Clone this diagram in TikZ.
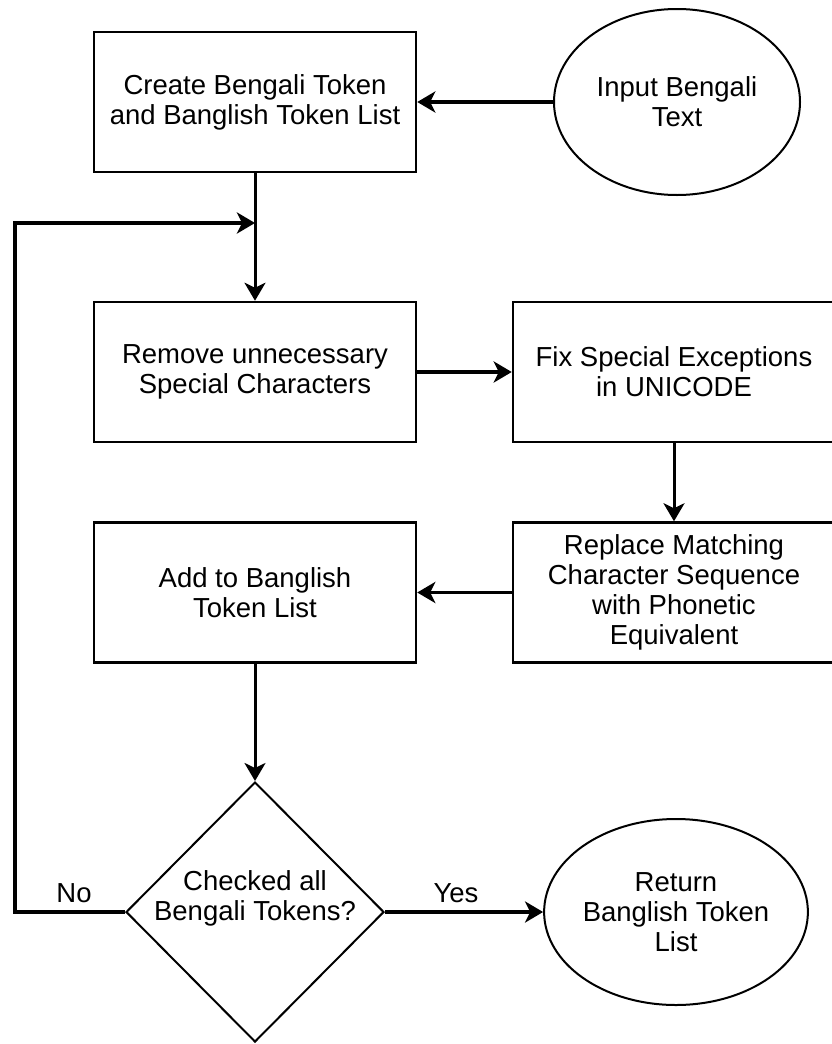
\documentclass[tikz,border=0pt]{standalone}
\usepackage{fontspec}
\setmainfont{Liberation Sans}
\usetikzlibrary{shapes.geometric,arrows.meta,calc}
\begin{document}
\begin{tikzpicture}[x=1pt,y=-1pt,
  every node/.style={font=\fontsize{27.5}{30}\selectfont, align=center, text=black},
  procbox/.style={draw, line width=2.5pt, minimum width=322pt, minimum height=140pt, inner sep=0pt},
  term/.style={draw, ellipse, line width=2pt, minimum width=246pt, minimum height=186pt, inner sep=0pt},
  decision/.style={draw, diamond, line width=2pt, minimum width=258pt, minimum height=260pt, inner sep=0pt},
  conn/.style={line width=3pt, -{Stealth[length=18pt,width=21pt,inset=5pt]}},
  hconn/.style={conn, line width=3.5pt},
  lbl/.style={inner sep=0pt}
]
\useasboundingbox[fill=white] (0,0) rectangle (831,1044);

\node[procbox] (b1) at (255,102) {Create Bengali Token\\and Banglish Token List};
\node[term] (in) at (677,102) {Input Bengali\\Text};
\node[procbox] (b2) at (255,372) {Remove unnecessary\\Special Characters};
\node[procbox] (b3) at (674,372) {Fix Special Exceptions\\in UNICODE};
\node[procbox] (b4) at (674,592.5) {Replace Matching\\Character Sequence\\with Phonetic\\Equivalent};
\node[procbox] (b5) at (255,592.5) {Add to Banglish\\Token List};
\node[decision, label={[name=dlab, yshift=13.5pt, align=center]center:Checked all\\Bengali Tokens?}] (dia) at (255,912) {};
\node[term] (ret) at (676,912) {Return\\Banglish Token\\List};

\coordinate (m) at (255,223);
\coordinate (lc) at (15,223);

\draw[hconn] (in.west) -- (b1.east);
\draw[conn] (b1.south) -- (b2.north);
\draw[hconn] (dia.west) -| (lc) -- (m);
\draw[hconn] (b2.east) -- (b3.west);
\draw[conn] (b3.south) -- (b4.north);
\draw[hconn] (b4.west) -- (b5.east);
\draw[conn] (b5.south) -- (dia.north);
\draw[hconn] (dia.east) -- (ret.west);

\node[lbl] (no) at (74,893) {No};
\node[lbl] (yes) at (456,893) {Yes};
\end{tikzpicture}
\end{document}
